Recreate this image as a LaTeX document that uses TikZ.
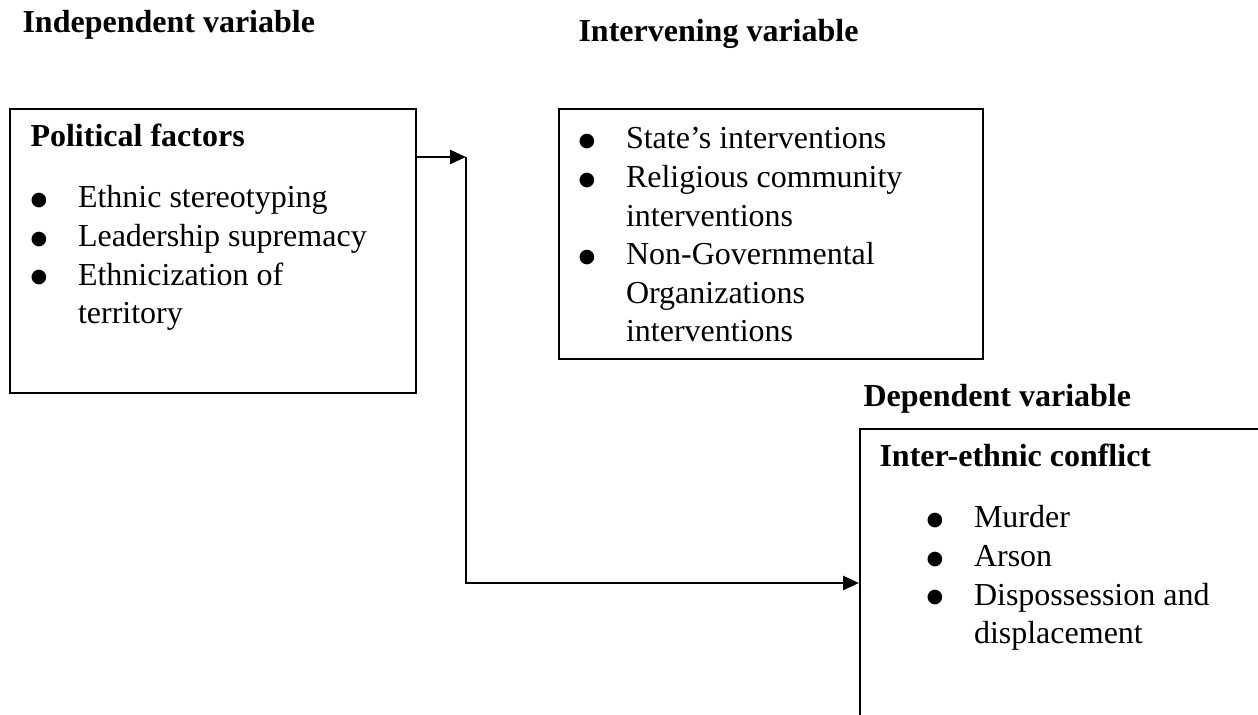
\documentclass[tikz,border=0pt]{standalone}
\usepackage{fontspec}
\setmainfont{Liberation Serif}
\newfontfamily\symfont{DejaVu Sans}
\usetikzlibrary{arrows.meta,positioning}

\tikzset{
  box/.style={draw, line width=0.75pt, inner sep=0pt, anchor=north west},
  title/.style={font=\fontsize{12}{14.44}\selectfont\bfseries, inner sep=0pt, anchor=base west},
  blist/.style={inner sep=0pt, anchor=base west},
  flow/.style={line width=1pt, -{Triangle[length=6pt,width=5.25pt]}},
}
% bullet list, one line per row
\newcommand{\blt}{\raisebox{0.8pt}{\symfont\fontsize{7.2}{7.2}\selectfont ●}}
\newcommand{\bulletrows}[1]{\fontsize{12}{14.44}\selectfont
  \begin{tabular}[t]{@{}p{17.8pt}@{}l@{}}#1\end{tabular}}

\begin{document}
\begin{tikzpicture}[x=0.375pt,y=-0.375pt]
\clip (0,0) rectangle (1258,715);
% headings
\node[title] (indep) at (22,33) {Independent variable};
\node[title] (interv) at (578,42) {Intervening variable};
\node[title] (dep) at (863,407) {Dependent variable};
% boxes
\node[box, minimum width=152.25pt, minimum height=106.5pt] (polit) at (9,108) {};
\node[box, minimum width=159pt, minimum height=93.75pt] (state) at (558,108) {};
\node[box, minimum width=151pt, minimum height=125pt] (conflict) at (859,428) {};
% box contents
\node[title] (polit-head) at (30,147) {Political factors};
\node[blist] (polit-list) at (30,208) {\bulletrows{%
  \blt & Ethnic stereotyping\\
  \blt & Leadership supremacy\\
  \blt & Ethnicization of\\
  & territory}};
\node[blist] (state-list) at (578,149) {\bulletrows{%
  \blt & State’s interventions\\
  \blt & Religious community\\
  & interventions\\
  \blt & Non-Governmental\\
  & Organizations\\
  & interventions}};
\node[title] (conflict-head) at (879,467) {Inter-ethnic conflict};
\node[blist] (conflict-list) at (926,528) {\bulletrows{%
  \blt & Murder\\
  \blt & Arson\\
  \blt & Dispossession and\\
  & displacement}};
% connectors
\coordinate (split) at (466,157);
\coordinate (entry) at (859,583);
\draw[flow] (polit.east |- split) -- (split);
\draw[flow] (split) |- (entry);
\end{tikzpicture}
\end{document}
